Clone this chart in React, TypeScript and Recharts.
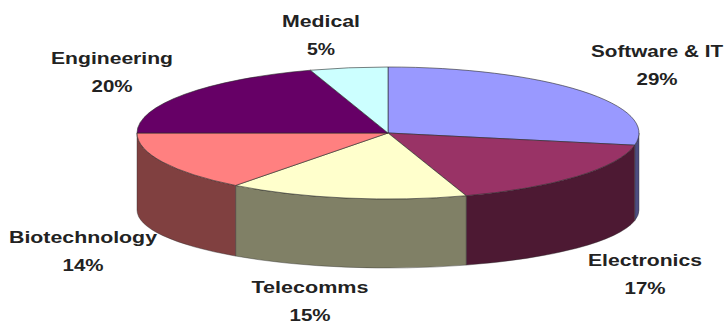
import { PieChart, Pie } from "recharts";

const sectors = ["Software & IT", "Electronics", "Telecomms", "Biotechnology", "Engineering", "Medical"];
const shares = [29, 17, 15, 14, 20, 5];
const topColors = ["#9999FF", "#993366", "#FFFFCC", "#FF8080", "#660066", "#CCFFFF"];
const wallColors = ["#4D4D80", "#4D1933", "#808066", "#804040", "#330033", "#668080"];

// centre of each two-line data label, and the width its name is set to
const labelSpots = [
  [657, 51],
  [645, 260],
  [310, 287],
  [83, 237],
  [112, 58],
  [321, 21],
];
const nameWidths = [132, 114, 117, 148, 122, 78];

const RAD = Math.PI / 180;

// the disc is flattened: the lower rim is a shallower ellipse further down
const TOP_RY = 66;
const BOTTOM_CY = 210;
const BOTTOM_RY = 58;

const rows = sectors.map((name, i) => ({ name, value: shares[i], fill: topColors[i] }));
const wallRows = sectors.map((name, i) => ({ name, value: shares[i], fill: wallColors[i] }));

// view correction: the tilted disc leans the right and front rim slightly clockwise
function viewAngle(angle: number) {
  const fromTop = 90 - angle;
  return fromTop < 270 ? angle + 4 * Math.sin(((fromTop * 2) / 3) * RAD) : angle;
}

function rimPoint(cx: number, cy: number, rx: number, ry: number, angle: number) {
  return `${cx + rx * Math.cos(angle * RAD)} ${cy - ry * Math.sin(angle * RAD)}`;
}

function TopFace(props: any) {
  const { cx, cy, outerRadius: r, startAngle, endAngle, fill } = props;
  const from = viewAngle(startAngle);
  const to = viewAngle(endAngle);
  const d =
    `M ${cx} ${cy} L ${rimPoint(cx, cy, r, TOP_RY, from)} ` +
    `A ${r} ${TOP_RY} 0 ${from - to > 180 ? 1 : 0} 1 ${rimPoint(cx, cy, r, TOP_RY, to)} Z`;
  return <path d={d} fill={fill} stroke="#2a2a2a" strokeWidth={0.6} />;
}

// side wall, only the part below the horizontal axis faces the viewer
function Wall(props: any) {
  const { cx, cy, outerRadius: r, startAngle, endAngle, fill } = props;
  const from = Math.min(viewAngle(startAngle), 0);
  const to = Math.max(viewAngle(endAngle), -180);
  if (from <= to) return <g />;
  const d =
    `M ${rimPoint(cx, cy, r, TOP_RY, from)} ` +
    `A ${r} ${TOP_RY} 0 0 1 ${rimPoint(cx, cy, r, TOP_RY, to)} ` +
    `L ${rimPoint(cx, BOTTOM_CY, r, BOTTOM_RY, to)} ` +
    `A ${r} ${BOTTOM_RY} 0 0 0 ${rimPoint(cx, BOTTOM_CY, r, BOTTOM_RY, from)} Z`;
  return <path d={d} fill={fill} stroke="#2a2a2a" strokeWidth={0.4} />;
}

function SectorLabel(props: any) {
  const { index, name, value } = props;
  const [x, y] = labelSpots[index];
  return (
    <text
      x={x}
      y={y}
      textAnchor="middle"
      fontFamily="'Liberation Sans', Arial, sans-serif"
      fontWeight="bold"
      fontSize={17}
      fill="#222"
    >
      <tspan x={x} dy={6} textLength={nameWidths[index]} lengthAdjust="spacingAndGlyphs">
        {name}
      </tspan>
      <tspan x={x} dy={28} textLength={value >= 10 ? 41 : 28} lengthAdjust="spacingAndGlyphs">
        {`${value}%`}
      </tspan>
    </text>
  );
}

export default function App() {
  return (
    <div style={{ position: "absolute", left: 0, top: 0, width: 725, height: 324, background: "#fff" }}>
      <PieChart width={725} height={324} margin={{ top: 0, right: 0, bottom: 0, left: 0 }}>
        <Pie
          data={wallRows}
          dataKey="value"
          nameKey="name"
          cx={388}
          cy={133}
          outerRadius={251}
          startAngle={90}
          endAngle={-270}
          stroke="none"
          shape={Wall}
          isAnimationActive={false}
        />
        <Pie
          data={rows}
          dataKey="value"
          nameKey="name"
          cx={388}
          cy={133}
          outerRadius={251}
          startAngle={90}
          endAngle={-270}
          shape={TopFace}
          label={SectorLabel}
          labelLine={false}
          isAnimationActive={false}
        />
      </PieChart>
    </div>
  );
}
